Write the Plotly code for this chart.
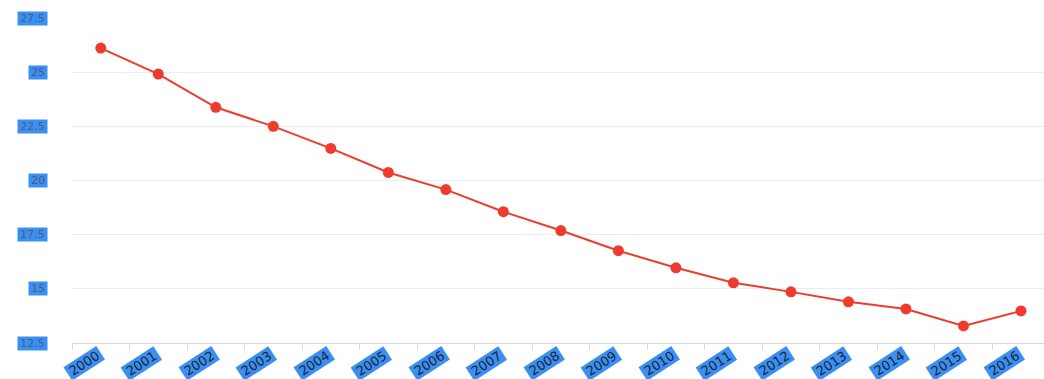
import plotly.graph_objects as go

years = ["2000", "2001", "2002", "2003", "2004", "2005", "2006", "2007", "2008",
         "2009", "2010", "2011", "2012", "2013", "2014", "2015", "2016"]
values = [26.11, 24.91, 23.38, 22.5, 21.48, 20.37, 19.58, 18.56, 17.69,
          16.76, 15.97, 15.28, 14.86, 14.40, 14.07, 13.29, 13.98]
y_ticks = [12.5, 15, 17.5, 20, 22.5, 25, 27.5]
y_tick_labels = ["12.5", "15", "17.5", "20", "22.5", "25", "27.5"]

LABEL_BG = "#3a8ff2"
PAD = "\u2009"

fig = go.Figure()
fig.add_trace(go.Scatter(
    x=years, y=values, mode="lines+markers",
    line=dict(color="#ef3b2d", width=2),
    marker=dict(color="#ef3b2d", size=11),
    hoverinfo="x+y",
))

annotations = []
for lab, v in zip(y_tick_labels, y_ticks):
    annotations.append(dict(
        x=0, xref="paper", y=v, yref="y", text=PAD + lab + PAD, showarrow=False,
        xanchor="right", yanchor="middle", xshift=-24,
        font=dict(family="DejaVu Sans", size=11, color="#4a5f82"),
        bgcolor=LABEL_BG, borderpad=0,
    ))
for i, yr in enumerate(years):
    annotations.append(dict(
        x=i, xref="x", y=0, yref="paper", text=PAD + yr + PAD, showarrow=False,
        xanchor="center", yanchor="middle", xshift=-17, yshift=-20,
        textangle=-33,
        font=dict(family="DejaVu Sans", size=13, color="#1f2430"),
        bgcolor=LABEL_BG, borderpad=0,
    ))

fig.update_layout(
    width=1044, height=379,
    margin=dict(l=72, r=0, t=18, b=36),
    paper_bgcolor="white", plot_bgcolor="white",
    showlegend=False,
    annotations=annotations,
    xaxis=dict(
        type="category", range=[-0.5, 16.4],
        showgrid=False, showticklabels=False,
        showline=True, linecolor="#d4d9e3", linewidth=1,
        ticks="outside", tickson="boundaries", ticklen=6, tickcolor="#d4d9e3",
        zeroline=False,
    ),
    yaxis=dict(
        range=[12.5, 27.5], tickvals=y_ticks, showticklabels=False,
        showgrid=True, gridcolor="#ebedf2", gridwidth=1,
        zeroline=False, showline=False,
    ),
)

fig.write_html("out.html")
